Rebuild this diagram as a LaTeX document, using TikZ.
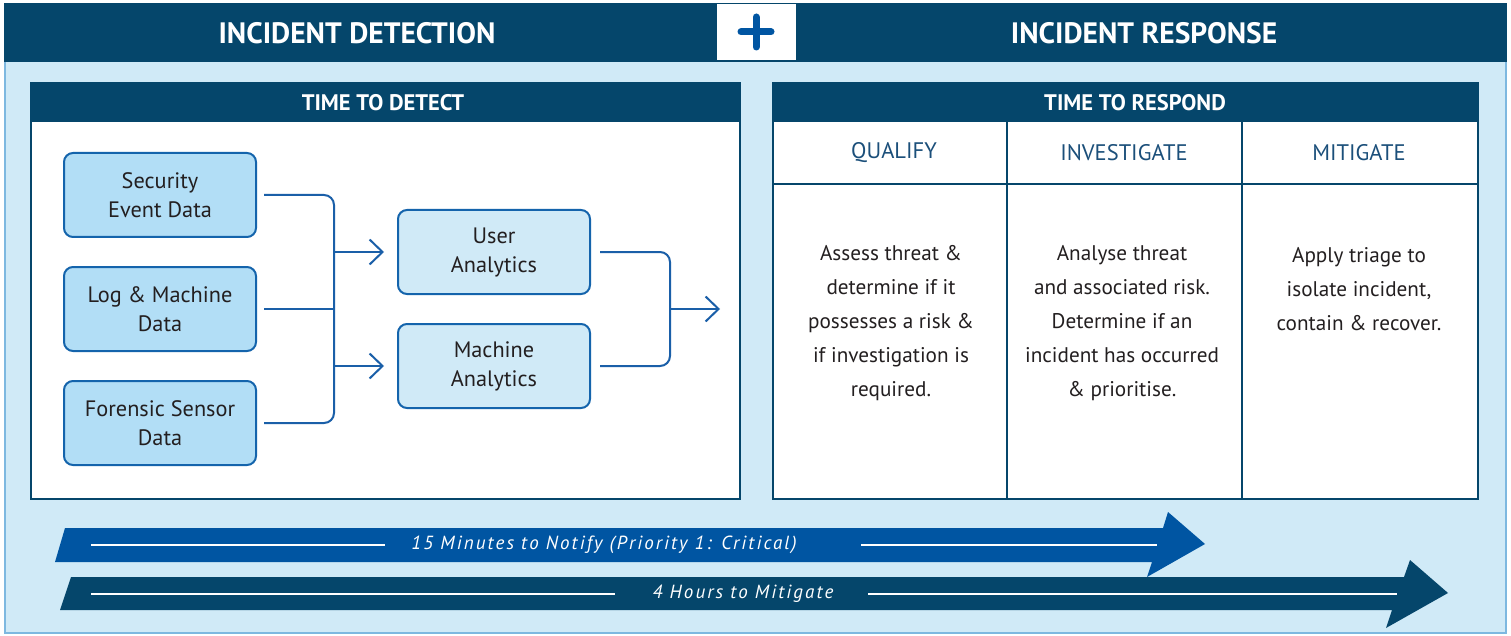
\documentclass[tikz,border=0pt]{standalone}
\usepackage{fontspec}
\setmainfont{PT Sans}
\newfontfamily\stripfont[LetterSpace=11]{PT Sans}
\usetikzlibrary{arrows.meta,calc}
\definecolor{navy}{HTML}{05466B}
\definecolor{brightblue}{HTML}{0055A2}
\definecolor{lightbg}{HTML}{D0EAF7}
\definecolor{framecol}{HTML}{7DB8E0}
\definecolor{boxfillA}{HTML}{B2DEF6}
\definecolor{boxfillB}{HTML}{D0EAF7}
\definecolor{boxline}{HTML}{1464AC}
\definecolor{connline}{HTML}{1A5FA8}
\definecolor{textdark}{HTML}{231F20}
\definecolor{colhead}{HTML}{1B4F7A}
\begin{document}
\begin{tikzpicture}[x=1pt,y=-1pt,
  titletext/.style={text=white,font=\fontsize{29.5}{34}\selectfont\bfseries},
  paneltitle/.style={text=white,font=\fontsize{22.5}{26}\selectfont\bfseries},
  databox/.style={draw=boxline,line width=2pt,rounded corners=9pt,fill=boxfillA,
    minimum width=192pt,minimum height=84pt,align=center,text=textdark,
    font=\fontsize{22.3}{29}\selectfont,inner sep=0pt},
  anabox/.style={databox,fill=boxfillB},
  conn/.style={draw=connline,line width=2pt,rounded corners=10pt},
  arr/.style={draw=connline,line width=2pt,-{Straight Barb[length=13pt,width=25pt]}},
  colhd/.style={text=colhead,font=\fontsize{22.5}{26}\selectfont},
  bodytext/.style={text=textdark,align=center,font=\fontsize{21.2}{34}\selectfont},
  striptext/.style={text=white,font=\fontsize{19}{22}\stripfont\itshape},
  whiteline/.style={draw=white,line width=1.5pt},
  panelline/.style={draw=navy,line width=2.5pt},
  colline/.style={draw=navy,line width=1.5pt}
]
\useasboundingbox (0,0) rectangle (1511,636);
\fill[white] (0,0) rectangle (1511,636);
% frame
\draw[fill=lightbg,draw=framecol,line width=2pt] (5,4) rectangle (1506,633);
\fill[navy] (4,3) rectangle (1507,62);
% plus box
\fill[white] (717,4) rectangle (796,60);
\draw[brightblue,line width=7pt,line cap=round] (741,32) -- (771,32);
\draw[brightblue,line width=7pt,line cap=round] (756,17) -- (756,47);
\node[titletext] (tdet) at (357,33) {INCIDENT DETECTION};
\node[titletext] (tres) at (1144,33) {INCIDENT RESPONSE};

% left panel
\fill[white] (30,82) rectangle (741,500);
\fill[navy] (30,82) rectangle (741,122);
\draw[panelline] (31,83) rectangle (740,499);
\node[paneltitle] (ttd) at (383,103) {TIME TO DETECT};

% right panel
\fill[white] (772,82) rectangle (1479,500);
\fill[navy] (772,82) rectangle (1479,122);
\draw[panelline] (773,83) rectangle (1478,499);
\draw[colline] (772,184) -- (1479,184);
\draw[colline] (1007,122) -- (1007,500);
\draw[colline] (1242,122) -- (1242,500);
\node[paneltitle] (ttr) at (1135,103) {TIME TO RESPOND};

\node[colhd] (cq) at (894,153) {QUALIFY};
\node[colhd] (ci) at (1124,153) {INVESTIGATE};
\node[colhd] (cm) at (1359,153) {MITIGATE};

\node[bodytext] (bq) at (891,323) {Assess threat \&\\determine if it\\possesses a risk \&\\if investigation is\\required.};
\node[bodytext] (bi) at (1122,323) {Analyse threat\\and associated risk.\\Determine if an\\incident has occurred\\\& prioritise.};
\node[bodytext] (bm) at (1359,289) {Apply triage to\\isolate incident,\\contain \& recover.};

% left diagram
\node[databox] (sec) at (160,195) {Security\\Event Data};
\node[databox] (log) at (160,309) {Log \& Machine\\Data};
\node[databox] (for) at (160,423) {Forensic Sensor\\Data};
\node[anabox] (ua) at (494,252) {User\\Analytics};
\node[anabox] (ma) at (494,366) {Machine\\Analytics};

\coordinate (j1) at (334,309);
\coordinate (j2) at (670,309);
\coordinate (out) at (720,309);

\draw[conn] ([xshift=7pt]sec.east) -| (j1) |- ([xshift=7pt]for.east);
\draw[conn] ([xshift=7pt]log.east) -- (j1);
\draw[arr] (j1 |- ua.west) -- ([xshift=-13pt]ua.west);
\draw[arr] (j1 |- ma.west) -- ([xshift=-13pt]ma.west);
\draw[conn] ([xshift=9pt]ua.east) -| (j2) |- ([xshift=9pt]ma.east);
\draw[arr] (j2) -- (out);

% bottom arrows
\fill[navy] (71,577) -- (1404,577) -- (1410,560) -- (1448,593) -- (1386,628) -- (1392,610) -- (60,610) -- cycle;
\fill[brightblue] (65,528) -- (1163,528) -- (1168,512) -- (1205,544) -- (1147,577) -- (1152,562) -- (55,562) -- cycle;

\node[striptext] (s1) at (604,545) {15 Minutes to Notify (Priority 1: Critical)};
\node[striptext] (s2) at (743,594) {4 Hours to Mitigate};
\coordinate (s1a) at (91,545);
\coordinate (s1b) at (385,545);
\coordinate (s1c) at (861,545);
\coordinate (s1d) at (1157,545);
\coordinate (s2a) at (91,594);
\coordinate (s2b) at (615,594);
\coordinate (s2c) at (868,594);
\coordinate (s2d) at (1397,594);
\draw[whiteline] (s1a) -- (s1b);
\draw[whiteline] (s1c) -- (s1d);
\draw[whiteline] (s2a) -- (s2b);
\draw[whiteline] (s2c) -- (s2d);
\end{tikzpicture}
\end{document}
